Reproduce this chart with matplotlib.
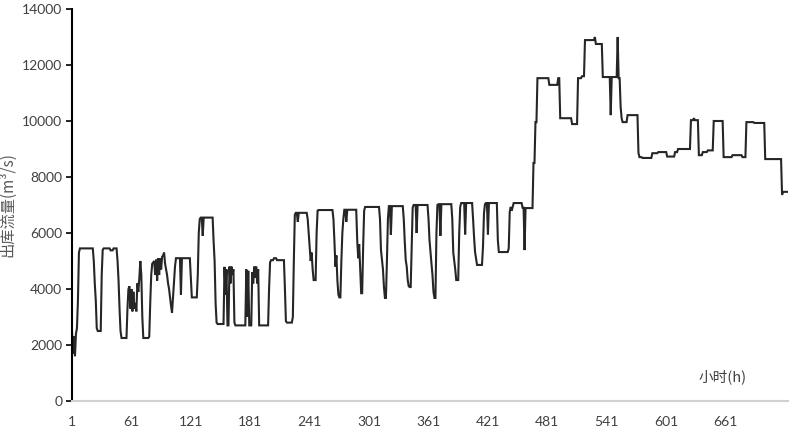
import numpy as np
import matplotlib
matplotlib.use("Agg")
import matplotlib.pyplot as plt

# ---- data: hourly outflow as step segments (start hour, value) ----
seg_start = [1, 2, 3, 4, 5, 6, 7, 8, 9, 23, 24, 25, 26, 27, 31, 32, 33, 40, 43, 47, 48, 49, 50, 51,
             57, 58, 59, 60, 61, 62, 63, 64, 65, 66, 67, 68, 69, 70, 71, 72, 73, 79, 80, 81, 82,
             83, 84, 85, 86, 87, 88, 89, 90, 91, 92, 93, 94, 95, 96, 97, 98, 99, 100, 101, 102,
             103, 104, 105, 106, 111, 112, 121, 122, 128, 129, 130, 131, 133, 134, 144, 145, 146,
             147, 148, 155, 156, 157, 158, 160, 161, 162, 163, 164, 165, 166, 177, 178, 179, 180,
             183, 184, 185, 186, 187, 188, 189, 190, 200, 201, 202, 205, 208, 216, 217, 218, 224,
             225, 226, 227, 229, 230, 239, 240, 241, 242, 243, 244, 245, 248, 249, 250, 265, 266,
             267, 268, 269, 270, 271, 273, 274, 275, 276, 278, 279, 289, 290, 291, 292, 293, 295,
             296, 297, 312, 313, 314, 315, 316, 317, 319, 320, 321, 323, 324, 336, 337, 338, 339,
             340, 341, 342, 344, 345, 346, 349, 350, 361, 362, 363, 364, 365, 366, 367, 369, 370,
             371, 373, 374, 385, 386, 387, 388, 389, 392, 393, 394, 398, 399, 406, 407, 408, 409,
             410, 416, 417, 418, 419, 421, 422, 431, 432, 442, 443, 444, 445, 446, 447, 456, 458,
             459, 467, 469, 471, 483, 492, 494, 506, 512, 516, 519, 529, 530, 537, 545, 546, 552,
             553, 555, 556, 557, 562, 573, 574, 577, 587, 593, 602, 610, 613, 626, 629, 630, 634,
             638, 643, 649, 659, 668, 678, 682, 690, 701, 718, 719]
seg_value = [2500, 1700, 2300, 1600, 2400, 2600, 3600, 5300, 5450, 5000, 4200, 3600, 2600, 2500,
             4500, 5400, 5450, 5380, 5450, 5000, 4300, 3300, 2500, 2250,
             3300, 4000, 4100, 3300, 4000, 3200, 3900, 3300, 3500, 3200, 4200, 3900, 4400, 5000,
             4500, 3000, 2250, 2300, 3500, 4500, 4900,
             4950, 5000, 4500, 5050, 4300, 5100, 4500, 5100, 4700, 5150, 5200, 5300, 4900, 4700,
             4500, 4200, 4000, 3700, 3400, 3150,
             3700, 4200, 4800, 5100, 3800, 5100, 4400, 3700, 4500, 6000, 6500, 6550, 5900, 6550,
             5700, 5000, 3500,
             2800, 2750, 4790, 3800, 4700, 2700, 4800, 4200, 4800, 4500, 4700, 2800, 2700, 4700,
             3000, 4650, 2700,
             4600, 4200, 4800, 4400, 4800, 4200, 4700, 2700, 4000, 4950, 5030, 5100, 5030, 4000,
             2850, 2800, 3000,
             5000, 6650, 6720, 6400, 6720, 6500, 6000, 5500, 5000, 5300, 4700, 4320, 6000, 6800,
             6820, 6500, 5700,
             4800, 5200, 4300, 3800, 3700, 5000, 6000, 6500, 6830, 6400, 6830, 5750, 5100, 5600,
             4700, 3850, 5500,
             6800, 6930, 6500, 5390, 5030, 4700, 4070, 3680, 5000, 6500, 6960, 5930, 6960, 6500,
             5700, 5030, 4800,
             4320, 4100, 4070, 5500, 6900, 7000, 6000, 7000, 6500, 5750, 5300, 4900, 4500, 3900,
             3680, 6000, 7000,
             7030, 5900, 7030, 6500, 5300, 5000, 4700, 4320, 6000, 6930, 7070, 5950, 7070, 6500,
             5850, 5320, 5100,
             4860, 5500, 6700, 7030, 7070, 5950, 7070, 5750, 5320, 5450, 6750, 6930, 6800, 6930,
             7070, 6900, 5390,
             6890, 8500, 9960, 11530, 11290, 11530, 10100, 9890, 11530, 11600, 12890, 13000, 12750,
             11570, 10210, 11570, 13000,
             11530, 10500, 10100, 9960, 10210, 8860, 8710, 8680, 8850, 8890, 8730, 8890, 9000,
             10030, 10100, 10030, 8780,
             8890, 8950, 10000, 8710, 8780, 8710, 9960, 9930, 8640, 7360, 7470]
n_hours = 723

x_ticks = [1, 61, 121, 181, 241, 301, 361, 421, 481, 541, 601, 661]
y_ticks = [0, 2000, 4000, 6000, 8000, 10000, 12000, 14000]

# expand the segments into hourly values (step lookup)
hours = np.arange(1, n_hours + 1)
idx = np.searchsorted(np.array(seg_start), hours, side="right") - 1
flow = np.array(seg_value)[idx]

# ---- figure ----
plt.rcParams['font.family'] = ['Lato', 'Noto Sans CJK SC', 'DejaVu Sans']
fig = plt.figure(figsize=(7.95, 4.33), dpi=100)
ax = fig.add_axes([72 / 795, 1 - 401 / 433, (788 - 72) / 795, (401 - 9) / 433])

ax.plot(hours, flow, color='#262626', lw=1.5, solid_joinstyle='miter')

ax.set_xlim(1, n_hours + 1)
ax.set_ylim(0, 14000)
ax.set_xticks(x_ticks)
ax.set_xticklabels([str(t) for t in x_ticks])
ax.set_yticks(y_ticks)
ax.set_yticklabels([str(t) for t in y_ticks])

ax.tick_params(axis='x', length=0, pad=11, labelsize=10, colors='#404040')
ax.tick_params(axis='y', length=4, width=1.2, pad=3, labelsize=10,
               colors='#404040', direction='out')
ax.tick_params(axis='y', color='black')

for s in ['top', 'right']:
    ax.spines[s].set_visible(False)
ax.spines['left'].set_color('black')
ax.spines['left'].set_linewidth(1.5)
ax.spines['bottom'].set_color('#d0d0d0')
ax.spines['bottom'].set_linewidth(1.5)

ax.set_ylabel('出库流量(m³/s)', fontsize=11, color='#595959',
              family=['Noto Sans CJK SC', 'DejaVu Sans'], labelpad=4)
ax.text(0.908, 0.061, '小时(h)', transform=ax.transAxes, fontsize=10.5,
        color='#404040', ha='center', va='center',
        family=['Noto Sans CJK SC', 'DejaVu Sans'])

fig.savefig('out.png', dpi=100)
